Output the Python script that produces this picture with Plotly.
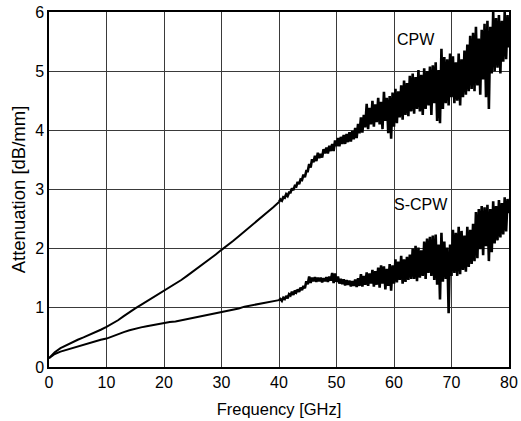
import numpy as np
import plotly.graph_objects as go

# Frequency grids [GHz]
freq_smooth = [float(v) for v in np.arange(0, 40.01, 1.0)]        # 0..40 step 1
freq_noisy = [float(v) for v in np.round(np.arange(40.25, 80.001, 0.25), 2)]  # 40.25..80

# CPW attenuation [dB/mm]
cpw_smooth = [0.15, 0.25, 0.32, 0.37, 0.42, 0.46, 0.50, 0.54, 0.59, 0.63,
              0.68, 0.73, 0.79, 0.86, 0.93, 0.99, 1.05, 1.11, 1.17, 1.22,
              1.28, 1.34, 1.41, 1.47, 1.54, 1.61, 1.68, 1.75, 1.83, 1.90,
              1.98, 2.05, 2.13, 2.21, 2.29, 2.37, 2.46, 2.54, 2.62, 2.70,
              2.79]
cpw_noisy = [
    2.83, 2.81, 2.87, 2.86,  2.92, 2.89, 2.95, 2.95,  3.02, 2.99, 3.06, 3.05,
    3.13, 3.09, 3.17, 3.16,  3.25, 3.21, 3.31, 3.31,  3.43, 3.37, 3.51, 3.46,
    3.57, 3.48, 3.62, 3.53,  3.60, 3.54, 3.68, 3.61,  3.71, 3.61, 3.74, 3.65,
    3.77, 3.65, 3.83, 3.73,  3.87, 3.73, 3.89, 3.77,  3.92, 3.77, 3.94, 3.80,
    3.97, 3.81, 3.99, 3.85,  4.04, 3.87, 4.11, 3.95,  4.22, 3.96, 4.26, 4.05,
    4.45, 4.02, 4.38, 4.10,  4.50, 4.06, 4.44, 4.14,  4.55, 4.10, 4.48, 4.02,
    4.65, 4.16, 4.55, 3.95,  4.58, 3.86, 4.64, 4.06,  4.70, 4.12, 4.66, 4.22,
    4.76, 4.18, 4.84, 4.26,  4.80, 4.24, 4.92, 4.32,  4.96, 4.28, 4.90, 4.36,
    5.02, 4.32, 4.94, 4.26,  5.05, 4.36, 5.00, 4.42,  5.08, 4.26, 5.10, 4.46,
    5.15, 4.16, 5.02, 4.12,  5.38, 4.36, 5.24, 4.46,  5.20, 4.42, 5.30, 4.56,
    5.25, 4.46, 5.15, 4.50,  5.30, 4.42, 5.20, 4.56,  5.35, 4.60, 5.45, 4.66,
    5.60, 4.70, 5.65, 4.66,  5.75, 4.76, 5.55, 4.60,  5.70, 4.86, 5.80, 4.56,
    5.85, 4.36, 5.75, 4.96,  6.00, 5.00, 5.90, 5.06,  5.95, 4.96, 5.85, 5.16,
    6.00, 5.20, 5.95, 5.40]

# S-CPW attenuation [dB/mm]
scpw_smooth = [0.15, 0.22, 0.26, 0.29, 0.32, 0.34, 0.37, 0.40, 0.43, 0.46,
               0.48, 0.52, 0.55, 0.59, 0.62, 0.65, 0.67, 0.69, 0.71, 0.73,
               0.74, 0.76, 0.77, 0.79, 0.80, 0.82, 0.84, 0.86, 0.88, 0.90,
               0.93, 0.95, 0.97, 0.99, 1.02, 1.04, 1.06, 1.08, 1.09, 1.11,
               1.13]
scpw_noisy = [
    1.15, 1.12, 1.17, 1.15,  1.20, 1.16, 1.23, 1.21,  1.27, 1.22, 1.29, 1.26,
    1.31, 1.27, 1.34, 1.30,  1.37, 1.33, 1.45, 1.40,  1.53, 1.42, 1.51, 1.45,
    1.52, 1.44, 1.51, 1.45,  1.51, 1.43, 1.50, 1.45,  1.52, 1.44, 1.53, 1.46,
    1.59, 1.42, 1.58, 1.44,  1.53, 1.41, 1.49, 1.40,  1.48, 1.38, 1.47, 1.39,
    1.46, 1.36, 1.45, 1.37,  1.48, 1.35, 1.50, 1.37,  1.57, 1.36, 1.54, 1.39,
    1.60, 1.37, 1.58, 1.41,  1.64, 1.36, 1.62, 1.39,  1.68, 1.34, 1.72, 1.41,
    1.70, 1.31, 1.66, 1.37,  1.74, 1.29, 1.72, 1.41,  1.82, 1.43, 1.78, 1.47,
    1.88, 1.41, 1.82, 1.44,  1.86, 1.47, 1.90, 1.49,  2.00, 1.49, 2.05, 1.45,
    2.02, 1.51, 1.97, 1.54,  2.12, 1.49, 2.17, 1.59,  2.20, 1.54, 2.22, 1.47,
    2.24, 1.39, 2.07, 1.14,  2.27, 1.44, 2.12, 1.49,  2.02, 0.91, 2.07, 1.54,
    2.32, 1.59, 2.27, 1.54,  2.37, 1.57, 2.30, 1.64,  2.22, 1.61, 2.37, 1.69,
    2.32, 1.74, 2.42, 1.79,  2.62, 1.84, 2.67, 1.99,  2.72, 1.89, 2.70, 2.04,
    2.74, 1.79, 2.67, 1.94,  2.80, 2.09, 2.72, 2.14,  2.82, 2.19, 2.77, 2.24,
    2.87, 2.29, 2.84, 2.60]

x_ticks = [0, 10, 20, 30, 40, 50, 60, 70, 80]
y_ticks = [0, 1, 2, 3, 4, 5, 6]
series_labels = ["CPW", "S-CPW"]
label_pos_x = [63.8, 64.7]
label_pos_y = [5.53, 2.74]

FONT = "Liberation Sans, Arial, sans-serif"

fig = go.Figure()
for name, ys_s, ys_n in zip(series_labels, [cpw_smooth, scpw_smooth],
                            [cpw_noisy, scpw_noisy]):
    # low-noise part (0-40 GHz)
    fig.add_trace(go.Scatter(x=freq_smooth, y=ys_s, mode="lines", name=name,
                             line=dict(color="black", width=2),
                             showlegend=False, hoverinfo="skip"))
    # noisy part (40-80 GHz), continues from last smooth point
    fig.add_trace(go.Scatter(x=freq_smooth[-1:] + freq_noisy,
                             y=ys_s[-1:] + ys_n, mode="lines", name=name,
                             line=dict(color="black", width=2.6),
                             showlegend=False, hoverinfo="skip"))

for name, lx, ly in zip(series_labels, label_pos_x, label_pos_y):
    fig.add_annotation(x=lx, y=ly, text=name, showarrow=False,
                       font=dict(family=FONT, size=16, color="black"))

axis_common = dict(showgrid=True, gridcolor="#3a3a3a", gridwidth=1,
                   showline=True, linecolor="black", linewidth=1.5, mirror=True,
                   zeroline=False, ticks="", automargin=False,
                   tickfont=dict(family=FONT, size=16, color="black"))

fig.update_xaxes(range=[0, 80], tickvals=x_ticks,
                 ticktext=[str(t) for t in x_ticks],
                 title=dict(text="Frequency [GHz]", standoff=13,
                            font=dict(family=FONT, size=16.5, color="black")),
                 **axis_common)
fig.update_yaxes(range=[0, 6], tickvals=y_ticks,
                 ticktext=[str(t) for t in y_ticks],
                 title=dict(text="Attenuation [dB/mm]", standoff=5,
                            font=dict(family=FONT, size=18.5, color="black")),
                 **axis_common)

fig.update_layout(width=521, height=421,
                  margin=dict(l=49, r=12, t=12, b=54, autoexpand=False),
                  paper_bgcolor="white", plot_bgcolor="white",
                  font=dict(family=FONT, color="black"))

fig.write_html("out.html", config={"displayModeBar": False},
               post_script="document.body.style.margin='0';"
                           "document.body.style.overflow='hidden';")
